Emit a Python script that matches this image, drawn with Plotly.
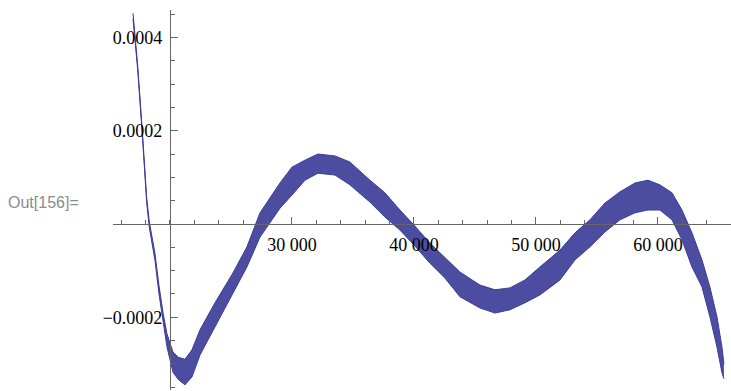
import plotly.graph_objects as go

# ---- data ----
x_vals = [16970, 17350, 17730, 18090, 18300, 18770, 19100, 19430, 19750, 20250,
          20700, 21230, 21800, 22460, 23690, 25160, 26310, 27380, 29020, 30000,
          31070, 32130, 33530, 34750, 36390, 37620, 38850, 40000, 41310, 42540,
          43770, 45410, 46640, 47870, 49100, 50330, 51970, 53200, 54430, 55660,
          56890, 58120, 59180, 60160, 61150, 61970, 62790, 63610, 64260, 64840,
          65250, 65410]

y_upper = [452e-6, 342e-6, 202e-6, 57e-6, 6e-6, -63e-6, -132e-6, -190e-6, -235e-6, -275e-6,
           -286e-6, -290e-6, -270e-6, -227e-6, -169e-6, -105e-6, -49e-6, 24e-6, 88e-6, 122e-6,
           137e-6, 150e-6, 146e-6, 133e-6, 94e-6, 67e-6, 30e-6, -2e-6, -41e-6, -71e-6,
           -103e-6, -131e-6, -141e-6, -137e-6, -120e-6, -92e-6, -56e-6, -19e-6, 9e-6, 45e-6,
           69e-6, 88e-6, 94e-6, 84e-6, 67e-6, 30e-6, -19e-6, -77e-6, -135e-6, -199e-6,
           -264e-6, -300e-6]

y_lower = [440e-6, 332e-6, 192e-6, 46e-6, -6e-6, -78e-6, -150e-6, -212e-6, -263e-6, -318e-6,
           -334e-6, -345e-6, -328e-6, -281e-6, -221e-6, -146e-6, -92e-6, -28e-6, 34e-6, 62e-6,
           94e-6, 109e-6, 105e-6, 84e-6, 47e-6, 15e-6, -13e-6, -45e-6, -84e-6, -116e-6,
           -156e-6, -180e-6, -191e-6, -184e-6, -169e-6, -152e-6, -120e-6, -77e-6, -49e-6, -17e-6,
           9e-6, 24e-6, 30e-6, 30e-6, 9e-6, -34e-6, -92e-6, -135e-6, -199e-6, -264e-6,
           -319e-6, -332e-6]

x_tick_vals = [30000, 40000, 50000, 60000]
x_tick_text = ["30 000", "40 000", "50 000", "60 000"]
y_tick_vals = [-0.0002, 0.0002, 0.0004]
y_tick_text = ["\u22120.0002", "0.0002", "0.0004"]

x_range = [15330, 65990]
y_range = [-0.000356, 0.000459]
axes_origin = (20000, 0)

LINE = "#3d3d99"
AXIS = "#666666"

fig = go.Figure()
fig.add_trace(go.Scatter(x=x_vals, y=y_lower, mode="lines",
                         line=dict(color=LINE, width=1), hoverinfo="skip",
                         showlegend=False))
fig.add_trace(go.Scatter(x=x_vals, y=y_upper, mode="lines",
                         line=dict(color=LINE, width=1), fill="tonexty",
                         fillcolor="rgba(61,61,153,0.92)", showlegend=False))

xpos = (axes_origin[1] - y_range[0]) / (y_range[1] - y_range[0])
ypos = (axes_origin[0] - x_range[0]) / (x_range[1] - x_range[0])

tick_font = dict(family="Liberation Serif", size=18, color="black")

fig.update_layout(
    width=731, height=391,
    margin=dict(l=113, r=0, t=10, b=1),
    paper_bgcolor="white", plot_bgcolor="white",
    showlegend=False,
    xaxis=dict(range=x_range, anchor="free", position=xpos,
               showgrid=False, zeroline=False, showline=True,
               linecolor=AXIS, linewidth=1,
               tickmode="array", tickvals=x_tick_vals, ticktext=x_tick_text,
               ticks="inside", ticklen=7, tickcolor=AXIS, tickwidth=1,
               ticklabelstandoff=4,
               minor=dict(tickmode="linear", tick0=0, dtick=2000,
                          ticks="inside", ticklen=4, tickcolor=AXIS),
               tickfont=tick_font),
    yaxis=dict(range=y_range, anchor="free", position=ypos,
               showgrid=False, zeroline=False, showline=True,
               linecolor=AXIS, linewidth=1,
               tickmode="array", tickvals=y_tick_vals, ticktext=y_tick_text,
               ticks="inside", ticklen=7, tickcolor=AXIS, tickwidth=1,
               ticklabelstandoff=4,
               minor=dict(tickmode="linear", tick0=0, dtick=0.00005,
                          ticks="inside", ticklen=4, tickcolor=AXIS),
               tickfont=tick_font),
)

fig.add_annotation(text="Out[156]=", xref="paper", yref="paper",
                   x=-107 / 618, y=(390 - 202) / 380,
                   xanchor="left", yanchor="middle", showarrow=False,
                   font=dict(family="Liberation Sans", size=16, color="#8c8c8c"))

fig.write_html("out.html",
               config={"displayModeBar": False},
               post_script="document.body.style.margin='0';document.body.style.overflow='hidden';")
